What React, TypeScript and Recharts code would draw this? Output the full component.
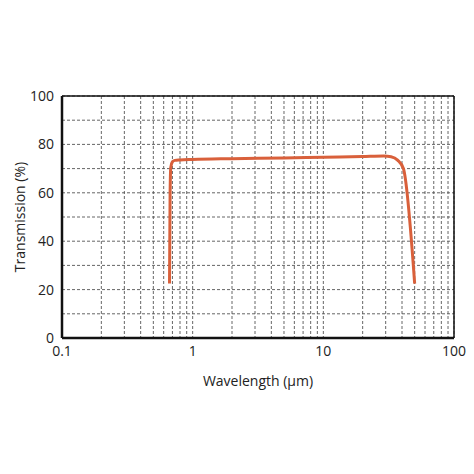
import {
  LineChart,
  Line,
  XAxis,
  YAxis,
  CartesianGrid,
  ReferenceLine,
} from "recharts";

// wavelength (µm) and transmission (%)
const wavelength = [0.665, 0.672, 0.68, 0.7, 0.73, 0.8, 1, 2, 5, 10, 20, 29, 33, 37, 41, 50];
const transmission = [22.5, 60, 70.5, 72.8, 73.4, 73.6, 73.8, 74.1, 74.4, 74.7, 75, 75.2, 74.9, 73.5, 70, 22.5];

// grid / tick positions
const xTicks = [0.1, 0.2, 0.3, 0.4, 0.5, 0.6, 0.7, 0.8, 0.9, 1, 2, 3, 4, 5, 6, 7, 8, 9, 10, 20, 30, 40, 50, 60, 70, 80, 90, 100];
const xLabels = [0.1, 1, 10, 100];
const yTicks = [0, 10, 20, 30, 40, 50, 60, 70, 80, 90, 100];
const yLabels = [0, 20, 40, 60, 80, 100];

const data = wavelength.map((w, i) => ({ w, t: transmission[i] }));

const font = "'Open Sans', 'Liberation Sans', sans-serif";

export default function App() {
  return (
    <div style={{ position: "absolute", left: 0, top: 0, width: 474, height: 474, background: "#fff" }}>
      <LineChart
        width={474}
        height={474}
        data={data}
        margin={{ top: 96, right: 20, left: 0, bottom: 96 }}
      >
        <CartesianGrid stroke="#555" strokeWidth={0.9} strokeDasharray="3 2" />
        <XAxis
          dataKey="w"
          type="number"
          scale="log"
          domain={[0.1, 100]}
          ticks={xTicks}
          allowDataOverflow
          height={40}
          tickLine={false}
          axisLine={{ stroke: "#111", strokeWidth: 2.5 }}
          tick={{ fill: "#222", fontSize: 14, fontFamily: font }}
          tickFormatter={(v: number) => (xLabels.includes(v) ? String(v) : "")}
          interval={0}
          label={{
            value: "Wavelength (μm)",
            position: "center",
            dy: 23,
            fill: "#222",
            fontSize: 14,
            fontFamily: font,
          }}
        />
        <YAxis
          type="number"
          domain={[0, 100]}
          ticks={yTicks}
          width={62}
          tickLine={false}
          axisLine={{ stroke: "#111", strokeWidth: 2.5 }}
          tick={{ fill: "#222", fontSize: 14, fontFamily: font }}
          tickFormatter={(v: number) => (yLabels.includes(v) ? String(v) : "")}
          interval={0}
          label={{
            value: "Transmission (%)",
            angle: -90,
            position: "center",
            dx: -11,
            fill: "#222",
            fontSize: 14,
            fontFamily: font,
          }}
        />
        <ReferenceLine y={100} stroke="#111" strokeWidth={1.5} />
        <ReferenceLine x={100} stroke="#111" strokeWidth={1.5} />
        <Line
          dataKey="t"
          type="monotone"
          stroke="#d9603b"
          strokeWidth={3}
          dot={false}
          isAnimationActive={false}
        />
      </LineChart>
    </div>
  );
}
